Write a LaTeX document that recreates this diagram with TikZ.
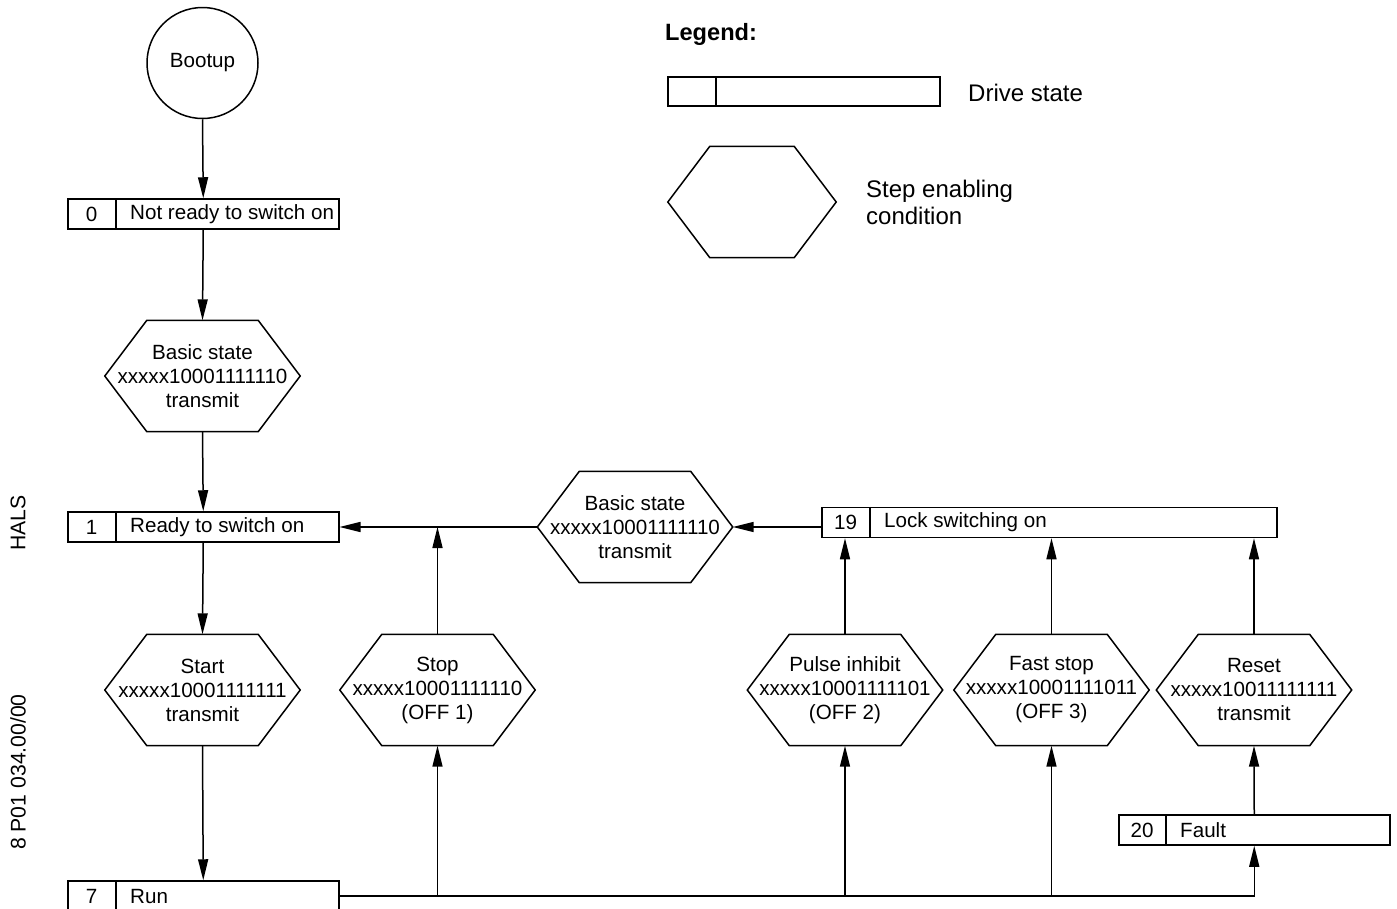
\documentclass[tikz,border=0pt]{standalone}
\usepackage{fontspec}
\setmainfont{Liberation Sans}
\usetikzlibrary{arrows.meta}
\tikzset{
  every node/.style={font=\fontsize{20.6}{24}\selectfont},
  legfont/.style={font=\fontsize{24}{27}\selectfont},
  ln/.style={line width=1.5pt},
  arr/.style={ln, -{Triangle[length=21pt,width=10pt]}},
  hexbox/.style={minimum width=195pt, minimum height=111pt, inner sep=0pt, align=center},
  cellbox/.style={draw, ln, minimum height=30pt, inner sep=0pt, anchor=west},
}
\newcommand{\hexat}[5][195]{%
  \node[hexbox, minimum width=#1pt] (#2) at (#3,#4) {#5};
  \draw[ln, line join=miter] (#2.west) -- ([xshift=42pt]#2.north west) -- ([xshift=-42pt]#2.north east) -- (#2.east) -- ([xshift=-42pt]#2.south east) -- ([xshift=42pt]#2.south west) -- cycle;}
\newcommand{\stbox}[7]{%
  \node[cellbox, minimum width=#4pt] (#1) at (#2,#3) {};
  \draw[ln] ([xshift=#5pt]#1.north west) -- ([xshift=#5pt]#1.south west);
  \node (#1n) at ([xshift={#5pt/2}]#1.west) {#6};
  \node[anchor=west, inner sep=0pt] (#1l) at ([xshift={#5pt+14pt}]#1.west) {#7};}
\begin{document}
\begin{tikzpicture}[x=1pt,y=-1pt]
\useasboundingbox (0,0) rectangle (1397,908);
% side labels
\node[rotate=90, font=\fontsize{21.2}{24}\selectfont] (hals) at (18,523) {HALS};
\node[rotate=90, font=\fontsize{21.2}{24}\selectfont] (code) at (18,772) {8 P01 034.00/00};
% legend
\node[anchor=west, inner sep=0pt, font=\fontsize{23.6}{27}\selectfont\bfseries] (leg) at (665,34) {Legend:};
\node[cellbox, minimum width=272pt, minimum height=29pt] (legbox) at (667,91.5) {};
\draw[ln] ([xshift=49pt]legbox.north west) -- ([xshift=49pt]legbox.south west);
\node[anchor=west, inner sep=0pt, legfont] (legdrive) at (968,93) {Drive state};
\hexat[168]{leghex}{752}{202}{}
\node[anchor=west, inner sep=0pt, align=left, legfont] (legstep) at (866,202) {Step enabling\\condition};
% main nodes
\node[draw, ln, circle, minimum size=111pt, inner sep=0pt] (boot) at (202.5,63) {Bootup};
\stbox{box0}{67}{214}{271}{49}{0}{Not ready to switch on}
\hexat{basic1}{202.5}{376}{Basic state\\xxxxx10001111110\\transmit}
\stbox{box1}{67}{527}{271}{49}{1}{Ready to switch on}
\hexat{start}{202.5}{690}{Start\\xxxxx10001111111\\transmit}
\hexat{stop}{437.5}{690}{Stop\\xxxxx10001111110\\(OFF 1)}
\stbox{run}{67}{896}{271}{49}{7}{Run}
\hexat{basic2}{635}{527}{Basic state\\xxxxx10001111110\\transmit}
\stbox{box19}{821}{522.5}{455}{49}{19}{Lock switching on}
\hexat{pulse}{845}{690}{Pulse inhibit\\xxxxx10001111101\\(OFF 2)}
\hexat{fast}{1051.5}{690}{Fast stop\\xxxxx10001111011\\(OFF 3)}
\hexat{reset}{1254}{690}{Reset\\xxxxx10011111111\\transmit}
\stbox{box20}{1118}{830}{271}{48}{20}{Fault}
% connectors
\draw[arr] (boot.south) -- (box0.north);
\draw[arr] (box0.south) -- (basic1.north);
\draw[arr] (basic1.south) -- (box1.north);
\draw[arr] (box1.south) -- (start.north);
\draw[arr] (start.south) -- (run.north);
\draw[arr] (basic2.west) -- (box1.east);
\draw[arr] (box19.west |- basic2.east) -- (basic2.east);
\draw[arr] (stop.north) -- (stop.north |- box1.east);
\draw[arr] (run.east) -| (box20.south);
\draw[arr] (stop.south |- run.east) -- (stop.south);
\draw[arr] (pulse.south |- run.east) -- (pulse.south);
\draw[arr] (fast.south |- run.east) -- (fast.south);
\draw[arr] (pulse.north) -- (pulse.north |- box19.south);
\draw[arr] (fast.north) -- (fast.north |- box19.south);
\draw[arr] (reset.north) -- (reset.north |- box19.south);
\draw[arr] (box20.north) -- (reset.south);
\end{tikzpicture}
\end{document}
